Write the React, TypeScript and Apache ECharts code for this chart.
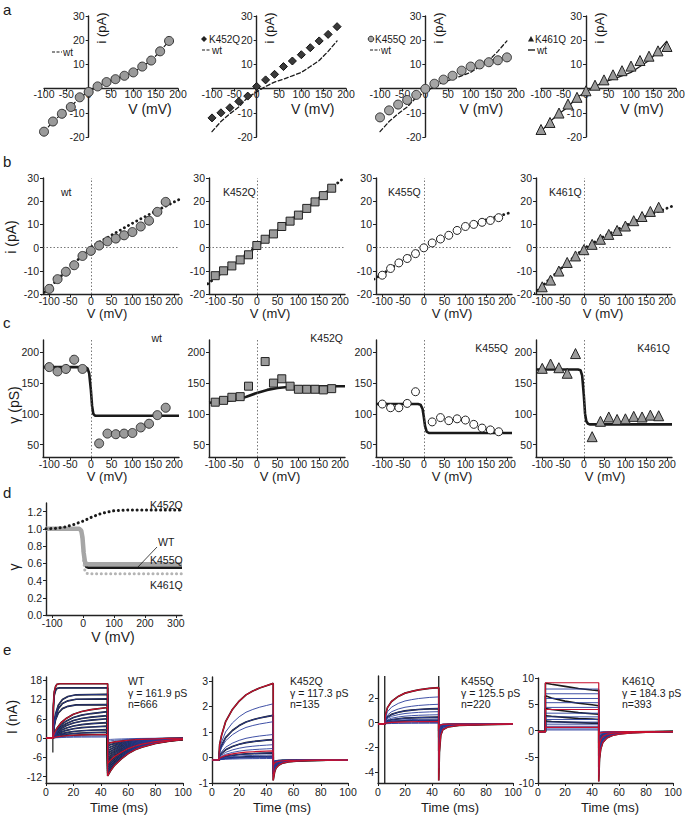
import React, { useEffect, useRef } from "react";
import * as echarts from "echarts";

const FONT = '"Liberation Sans", Arial, Helvetica, sans-serif';

// ---------------- a / b : single-channel current vs voltage ----------------
const V_IV = [-100, -80, -60, -40, -20, 0, 20, 40, 60, 80, 100, 120, 140, 160, 180];
const I_WT = [-17.8, -13.6, -10.4, -7.6, -3.6, -1.4, 0.9, 2.7, 3.9, 5.3, 6.7, 9.1, 11.6, 15.4, 19.7];
const I_K452Q = [-12.1, -10.0, -7.9, -5.3, -3.1, 0.9, 3.6, 5.9, 9.1, 11.4, 14.0, 16.9, 19.7, 22.4, 25.6];
const I_K455Q = [-11.9, -9.0, -6.6, -4.7, -2.6, -0.1, 2.0, 3.7, 5.3, 7.4, 9.1, 10.0, 10.9, 11.7, 12.9];
const I_K461Q = [-16.9, -14.0, -10.1, -6.4, -3.6, -0.9, 1.4, 3.6, 5.7, 7.4, 9.3, 11.6, 13.4, 15.6, 17.4];

// fitted I-V curves of panel b (dotted)
const FIT_WT = [[-120, -20.6], [-100, -17.3], [-50, -8.5], [-20, -3.3], [0, 0.2], [50, 5.4], [100, 10.5], [150, 15.2], [212, 20.7]];
const FIT_K452Q = [[-118, -15.6], [-50, -6.2], [0, 0.6], [50, 7.5], [100, 14.4], [150, 21.4], [205, 29.4]];
const FIT_K455Q = [[-120, -13.6], [-100, -11.5], [-50, -5.3], [0, 0], [50, 4.8], [100, 8.8], [150, 12.0], [212, 15.3]];
const FIT_K461Q = [[-120, -19.8], [-100, -16.6], [-50, -8.2], [0, -0.4], [50, 5.0], [100, 9.5], [150, 13.6], [212, 17.8]];

// ---------------- c : single-channel conductance ----------------
const V_G = [-100, -80, -60, -40, -20, 20, 40, 60, 80, 100, 120, 140, 160, 180];
const G_WT = [176, 169, 173, 188, 173, 52, 68, 67, 68, 69, 78, 84, 98, 110];
const G_K452Q = [119, 122, 127, 128, 145, 185, 150, 157, 145, 140, 140, 140, 139, 141];
const G_K455Q = [116, 110, 110, 117, 136, 87, 94, 89, 92, 90, 83, 77, 74, 71];
const G_K461Q = [174, 181, 175, 166, 198, 63, 88, 95, 91, 92, 96, 95, 98, 97];

const FITG_WT = [[-115, 176], [-14, 176], [-8, 174], [-4, 166], [0, 140], [3, 113], [6, 100], [10, 97], [212, 97]];
const FITG_K452Q = [[-115, 118], [-80, 120], [-50, 123], [-25, 128], [0, 134], [25, 139], [50, 142], [80, 144], [120, 145], [212, 145]];
const FITG_K455Q = [[-115, 116], [-14, 116], [-8, 115], [-3, 108], [0, 95], [3, 80], [7, 71], [12, 69], [212, 69]];
const FITG_K461Q = [[-115, 172], [-14, 172], [-8, 171], [-4, 162], [0, 130], [3, 100], [6, 88], [10, 84], [14, 83], [212, 83]];

// ---------------- d : normalised conductance ----------------
const REL_K452Q = [[-120, 1.0], [-90, 1.005], [-60, 1.02], [-30, 1.05], [0, 1.09], [30, 1.14], [60, 1.18], [100, 1.21], [150, 1.22], [320, 1.22]];
const REL_WT = [[-120, 1.0], [-12, 1.0], [-6, 0.97], [-2, 0.88], [2, 0.7], [6, 0.59], [10, 0.56], [16, 0.55], [320, 0.55]];
const REL_K455Q = [[-120, 1.0], [-12, 1.0], [-6, 0.98], [-2, 0.9], [2, 0.72], [6, 0.62], [10, 0.59], [320, 0.59]];
const REL_K461Q = [[-120, 1.0], [-12, 1.0], [-6, 0.97], [-2, 0.85], [2, 0.62], [6, 0.51], [10, 0.485], [16, 0.48], [320, 0.48]];

// ---------------- e : macroscopic current families ----------------
// normalised time courses: [time (ms), fraction]
const RISE_FAST = [[5, 0], [5.4, 0.6], [6, 0.85], [7, 0.95], [8, 0.99], [10, 1], [45, 1]];
const RISE_MED = [[5, 0], [6, 0.35], [7, 0.55], [9, 0.75], [12, 0.88], [16, 0.95], [22, 0.99], [45, 1]];
const RISE_SLOW = [[5, 0], [6, 0.15], [8, 0.32], [11, 0.5], [15, 0.65], [20, 0.78], [26, 0.87], [33, 0.93], [45, 1]];
const RISE_K452 = [[5, 0], [5.6, 0.2], [7, 0.32], [10, 0.5], [15, 0.66], [20, 0.77], [25, 0.85], [30, 0.9], [35, 0.94], [40, 0.97], [45, 1]];
const RISE_K455 = [[5, 0], [5.6, 0.25], [7, 0.45], [10, 0.62], [15, 0.76], [20, 0.85], [25, 0.9], [30, 0.94], [38, 0.98], [45, 1]];
const RISE_STEP = [[5.5, 0], [5.5, 1], [45, 1]];
const DECAY_WT = [[45, 1], [47, 0.87], [50, 0.72], [55, 0.55], [60, 0.41], [65, 0.31], [70, 0.24], [80, 0.14], [90, 0.08], [100, 0.04]];
const DECAY_FAST = [[45, 1], [46, 0.6], [47, 0.4], [49, 0.25], [52, 0.15], [56, 0.09], [62, 0.05], [70, 0.03], [85, 0.01], [100, 0]];
const DECAY_K455 = [[45, 1], [45.5, 0.5], [46.5, 0.2], [48, 0.1], [52, 0.05], [60, 0.025], [80, 0.01], [100, 0]];
const DECAY_K461 = [[45, 1], [45.6, 0.55], [46.5, 0.35], [48, 0.22], [51, 0.13], [55, 0.08], [60, 0.05], [70, 0.025], [85, 0.01], [100, 0]];

const WT_STEADY = [16.9, 15.6, 13.6, 12.2, 10.4, 9.5, 8.2, 7.0, 6.0, 4.8, 3.7, 2.6, 1.8, 1.1, 0.6, 0.3];
const WT_TAIL = [-11.8, -11.0, -10.3, -9.6, -8.8, -8.0, -7.2, -6.4, -5.6, -4.8, -4.0, -3.2, -2.4, -1.7, -1.0, -0.5];
const WT_SHAPE = ["F", "F", "M", "M", "M", "S", "S", "S", "S", "S", "S", "S", "S", "S", "S", "S"];
const WT_RED = [0, 5, 13];

const K452_STEADY = [3.0, 2.2, 1.75, 1.5, 1.0, 0.8, 0.6, 0.45, 0.36, 0.28, 0.2, 0.14, 0.1, 0.06];
const K452_TAIL = [-0.8, -0.65, -0.55, -0.5, -0.4, -0.35, -0.3, -0.25, -0.2, -0.17, -0.14, -0.1, -0.08, -0.05];
const K452_RED = [0, 8];
const K452_BLACK = [0, 2, 5, 9, 11];

const K455_STEADY = [2.95, 2.2, 1.6, 1.25, 1.0, 0.75, 0.55, 0.4, 0.3, 0.2, 0.12, 0.06];
const K455_TAIL = [-4.6, -3.6, -2.8, -2.2, -1.8, -1.4, -1.1, -0.8, -0.6, -0.4, -0.3, -0.2];
const K455_RED = [0, 9];
const K455_BLACK = [0, 3, 6, 8];

const K461_FIT = [9.3, 8.1, 7.2, 6.3, 5.5, 4.6, 4.2, 3.5, 2.8, 2.3, 1.8, 1.4, 1.0, 0.8, 0.5, 0.3];
const K461_TAIL = [-9.5, -8.2, -7.2, -6.4, -5.6, -4.8, -4.2, -3.6, -3.0, -2.4, -1.9, -1.4, -1.0, -0.7, -0.4, -0.2];
const K461_RED = [0, 6, 13];
const K461_BLACK_T = [5.5, 10, 20, 30, 40, 45];
const K461_BLACK = [
  [9.2, 9.0, 8.6, 8.2, 7.9, 7.8],
  [6.8, 6.4, 5.8, 5.4, 5.1, 4.9],
  [4.4, 4.2, 3.9, 3.6, 3.4, 3.3],
  [3.0, 2.9, 2.7, 2.5, 2.4, 2.3],
  [2.0, 1.9, 1.8, 1.7, 1.6, 1.6],
];
const K461_BLACK_TAIL = [-9.5, -6.8, -4.6, -3.2, -2.2];

// ---------------- tick lists ----------------
const A_XTICKS = [-100, -50, 0, 50, 100, 150, 200];
const A_YTICKS = [-20, -10, 10, 20, 30];
const B_YTICKS = [-20, -10, 0, 10, 20, 30];
const BC_XTICKS = [-100, -50, 0, 50, 100, 150, 200];
const C_YTICKS = [50, 100, 150, 200];
const D_XTICKS = [-100, 0, 100, 200, 300];
const D_YTICKS = [0, 0.2, 0.4, 0.6, 0.8, 1.0, 1.2];
const E_XTICKS = [0, 20, 40, 60, 80, 100];
const E_YTICKS = [
  [-12, -6, 0, 6, 12, 18],
  [-1, 0, 1, 2, 3],
  [-4, -2, 0, 2],
  [-10, -5, 0, 5, 10],
];

const BLACK = "#1a1a1a";
const BLUE = "#2a3d9c";
const RED = "#c8102e";
const GRAY = "#9a9a9a";

function buildOption() {
  const grid: any[] = [];
  const xAxis: any[] = [];
  const yAxis: any[] = [];
  const series: any[] = [];
  const graphic: any[] = [];

  const axis = (min: number, max: number, ticks: number[], o: any = {}) => {
    const label: any = {
      show: true,
      customValues: ticks,
      fontSize: o.fs ?? 10.5,
      fontFamily: FONT,
      color: "#222222",
      margin: o.margin ?? 3,
      showMinLabel: true,
      showMaxLabel: true,
      hideOverlap: false,
    };
    if (o.formatter) label.formatter = o.formatter;
    const ax: any = {
      type: "value",
      min,
      max,
      axisLine: { show: true, onZero: false, lineStyle: { color: "#222", width: o.lw ?? 1.4 } },
      axisTick: { show: true, length: 3, inside: false, customValues: ticks, lineStyle: { color: "#222", width: 1 } },
      axisLabel: label,
      splitLine: { show: false },
    };
    if (o.position) ax.position = o.position;
    if (o.offset !== undefined) ax.offset = o.offset;
    return ax;
  };
  const add = (g: any, xa: any, ya: any) => {
    grid.push({ ...g, containLabel: false, outerBoundsMode: "none", show: false });
    const i = grid.length - 1;
    xAxis.push({ ...xa, gridIndex: i });
    yAxis.push({ ...ya, gridIndex: i });
    return i;
  };
  const zip = (xs: number[], ys: number[]) => xs.map((x, i) => [x, ys[i]]);
  const line = (gi: number, data: any[], color: string, width: number, type: any = "solid", z = 2, extra: any = {}) => ({
    type: "line",
    xAxisIndex: gi,
    yAxisIndex: gi,
    data,
    symbol: "none",
    silent: true,
    z,
    lineStyle: { color, width, type, cap: Array.isArray(type) ? "round" : "butt" },
    ...extra,
  });
  const scat = (gi: number, data: any[], symbol: string, size: number, fill: string, stroke: string, z = 5) => ({
    type: "scatter",
    xAxisIndex: gi,
    yAxisIndex: gi,
    data,
    symbol,
    symbolSize: size,
    silent: true,
    z,
    itemStyle: { color: fill, borderColor: stroke, borderWidth: 1, opacity: 1 },
  });
  const T = (x: number, y: number, text: string, size = 11, align = "left", vAlign = "middle", rotation = 0) => ({
    type: "text",
    x,
    y,
    rotation,
    silent: true,
    z: 100,
    style: {
      text,
      fill: "#1a1a1a",
      font: `${size}px ${FONT}`,
      fontSize: size,
      fontFamily: FONT,
      align,
      verticalAlign: vAlign,
      textAlign: align,
      textVerticalAlign: vAlign,
    },
  });
  const G = (type: string, shape: any, style: any) => ({ type, shape, style, silent: true, z: 100 });
  const DOT = [0.1, 4.6];

  // panel letters
  graphic.push(T(3, 9, "a", 15), T(3, 161, "b", 15), T(3, 322, "c", 15), T(3, 492, "d", 15), T(3, 649, "e", 15));

  // ---------------- panel a ----------------
  const A_LEFT = [44, 212, 380, 541];
  const A_W = [134, 134, 136, 135];
  const A_H = 121;
  const aMut = [null, I_K452Q, I_K455Q, I_K461Q];
  for (let k = 0; k < 4; k++) {
    const zeroOffX = (A_W[k] * 100) / 300;
    const zeroOffY = (A_H * 20) / 50;
    const gi = add(
      { left: A_LEFT[k], top: 16, width: A_W[k], height: A_H },
      axis(-100, 200, A_XTICKS, { margin: 0, position: "bottom", offset: -zeroOffY }),
      axis(-20, 30, A_YTICKS, { margin: 4, position: "left", offset: -zeroOffX })
    );
    const zeroX = A_LEFT[k] + zeroOffX;
    if (k === 0) {
      series.push({
        ...line(gi, zip(V_IV, I_WT), BLACK, 1.2, [4, 2.5], 3),
        symbol: "circle",
        symbolSize: 9,
        itemStyle: { color: GRAY, borderColor: "#333", borderWidth: 1 },
      });
    } else {
      series.push(line(gi, zip(V_IV, I_WT), BLACK, 1.3, k === 3 ? "solid" : [4, 2.5], 2));
      const d = zip(V_IV, aMut[k] as number[]);
      if (k === 1) series.push(scat(gi, d, "diamond", 8, "#3a3a3a", "#111"));
      if (k === 2) series.push(scat(gi, d, "circle", 9, "#a5a5a5", "#333"));
      if (k === 3) series.push(scat(gi, d, "triangle", 10, GRAY, "#222"));
    }
    graphic.push(T(zeroX + 13, 28, "i (pA)", 13, "center", "middle", Math.PI / 2));
    graphic.push(T(k === 0 ? 150 : zeroX + 56, 109, "V (mV)", 14, "center", "middle"));
  }
  // panel a legends
  graphic.push(G("line", { x1: 52, y1: 52, x2: 62, y2: 52 }, { stroke: BLACK, lineWidth: 1.2, lineDash: [3, 1.5] }));
  graphic.push(T(63, 52, "wt", 10));
  graphic.push(G("polygon", { points: [[204, 36], [207, 39], [204, 42], [201, 39]] }, { fill: "#222" }));
  graphic.push(T(209, 39, "K452Q", 10));
  graphic.push(G("line", { x1: 202, y1: 50, x2: 211, y2: 50 }, { stroke: BLACK, lineWidth: 1.2, lineDash: [3, 1.5] }));
  graphic.push(T(212, 50, "wt", 10));
  graphic.push(G("circle", { cx: 371, cy: 39, r: 2.8 }, { fill: "#a5a5a5", stroke: "#333", lineWidth: 1 }));
  graphic.push(T(375, 39, "K455Q", 10));
  graphic.push(G("line", { x1: 370, y1: 50, x2: 380, y2: 50 }, { stroke: BLACK, lineWidth: 1.2, lineDash: [3, 1.5] }));
  graphic.push(T(381, 50, "wt", 10));
  graphic.push(G("polygon", { points: [[531, 36], [534, 41.5], [528, 41.5]] }, { fill: "#222" }));
  graphic.push(T(535, 39, "K461Q", 10));
  graphic.push(G("line", { x1: 528, y1: 50, x2: 535, y2: 50 }, { stroke: BLACK, lineWidth: 1.4 }));
  graphic.push(T(537, 50, "wt", 10));

  // ---------------- panel b ----------------
  const BC_LEFT = [43, 209, 376, 536];
  const BC_W = 136;
  const bData = [I_WT, I_K452Q, I_K455Q, I_K461Q];
  const bFit = [FIT_WT, FIT_K452Q, FIT_K455Q, FIT_K461Q];
  const bSym = [
    ["circle", 9, GRAY, "#333"],
    ["rect", 8, GRAY, "#222"],
    ["circle", 8, "#ffffff", "#222"],
    ["triangle", 10, GRAY, "#222"],
  ];
  const bNames = ["wt", "K452Q", "K455Q", "K461Q"];
  const bNameX = [61, 223, 388, 549];
  const bVx = [107, 270, 452, 603];
  for (let k = 0; k < 4; k++) {
    const gi = add(
      { left: BC_LEFT[k], top: 178, width: BC_W, height: 116 },
      axis(-115, 212, BC_XTICKS, { margin: 1 }),
      axis(-20, 30, B_YTICKS, { margin: 4 })
    );
    series.push({
      ...line(gi, bFit[k], BLACK, 2.8, DOT, 3),
      markLine: {
        silent: true,
        symbol: ["none", "none"],
        label: { show: false },
        lineStyle: { type: [1.5, 2], color: "#555", width: 0.8 },
        data: [{ xAxis: 0 }, { yAxis: 0 }],
        animation: false,
      },
    });
    const s = bSym[k] as any[];
    series.push(scat(gi, zip(V_IV, bData[k]), s[0], s[1], s[2], s[3]));
    graphic.push(T(bNameX[k], 192, bNames[k], 10.5));
    graphic.push(T(bVx[k], 313, "V (mV)", 13, "center", "middle"));
  }
  graphic.push(T(11, 237, "i (pA)", 14, "center", "middle", Math.PI / 2));

  // ---------------- panel c ----------------
  const cData = [G_WT, G_K452Q, G_K455Q, G_K461Q];
  const cFit = [FITG_WT, FITG_K452Q, FITG_K455Q, FITG_K461Q];
  const cNameX = [162, 343, 508, 670];
  const cNameY = [338, 338, 348, 348];
  const cVx = [107, 280, 452, 605];
  for (let k = 0; k < 4; k++) {
    const gi = add(
      { left: BC_LEFT[k], top: 340, width: BC_W, height: 117 },
      axis(-115, 212, BC_XTICKS, { margin: 1 }),
      axis(30, 220, C_YTICKS, { margin: 4 })
    );
    series.push({
      ...line(gi, cFit[k], BLACK, 2.6, "solid", 3),
      markLine: {
        silent: true,
        symbol: ["none", "none"],
        label: { show: false },
        lineStyle: { type: [1.5, 2], color: "#555", width: 0.8 },
        data: [{ xAxis: 0 }],
        animation: false,
      },
    });
    const s = bSym[k] as any[];
    series.push(scat(gi, zip(V_G, cData[k]), s[0], s[1], s[2], s[3]));
    graphic.push(T(cNameX[k], cNameY[k], bNames[k], 10.5, "right"));
    graphic.push(T(cVx[k], 476, "V (mV)", 13, "center", "middle"));
  }
  graphic.push(T(14, 405, "γ (pS)", 14, "center", "middle", Math.PI / 2));

  // ---------------- panel d ----------------
  {
    const gi = add(
      { left: 46, top: 503, width: 136, height: 112 },
      axis(-120, 320, D_XTICKS, { margin: 2 }),
      axis(0, 1.3, D_YTICKS, { margin: 4, formatter: (v: number) => v.toFixed(1) })
    );
    series.push(line(gi, REL_WT, BLACK, 2.6, "solid", 2));
    series.push(line(gi, REL_K461Q, "#b4b4b4", 3, DOT, 3));
    series.push(line(gi, REL_K455Q, "#a6a6a6", 4.5, "solid", 4));
    series.push(line(gi, REL_K452Q, BLACK, 3, DOT, 5));
    graphic.push(T(150, 505, "K452Q", 10.5));
    graphic.push(T(158, 542, "WT", 10.5));
    graphic.push(G("line", { x1: 157, y1: 547, x2: 137, y2: 568 }, { stroke: BLACK, lineWidth: 0.8 }));
    graphic.push(T(150, 560, "K455Q", 10.5));
    graphic.push(T(150, 585, "K461Q", 10.5));
    graphic.push(T(113, 637, "V (mV)", 14, "center", "middle"));
    graphic.push(T(14, 567, "γ", 14, "center", "middle", Math.PI / 2));
  }

  // ---------------- panel e ----------------
  const trace = (base: number, amp: number, tail: number, rise: number[][], decay: number[][]) => {
    const pts: number[][] = [[0, base]];
    for (const [t, f] of rise) pts.push([t, base + amp * f]);
    for (const [t, f] of decay) pts.push([t, base + tail * f]);
    return pts;
  };
  const E_LEFT = [46, 212, 378, 538];
  const E_W = [137, 136, 135, 135];
  const E_TOP = [677, 677, 676, 678];
  const E_H = [106, 106, 107, 105];
  const E_RANGE = [[-14, 19], [-1, 3.15], [-4.9, 3.8], [-10, 10]];
  const eGi: number[] = [];
  for (let k = 0; k < 4; k++) {
    eGi.push(
      add(
        { left: E_LEFT[k], top: E_TOP[k], width: E_W[k], height: E_H[k] },
        axis(0, 100, E_XTICKS, { margin: 3 }),
        axis(E_RANGE[k][0], E_RANGE[k][1], E_YTICKS[k], { margin: 4 })
      )
    );
  }
  // WT
  {
    const gi = eGi[0];
    const shapes: any = { F: RISE_FAST, M: RISE_MED, S: RISE_SLOW };
    WT_STEADY.forEach((a, i) => {
      const d = trace(0, a, WT_TAIL[i], shapes[WT_SHAPE[i]], DECAY_WT);
      if (a > 1) series.push(line(gi, d, BLACK, 1.7, "solid", 2));
      const red = WT_RED.includes(i);
      series.push(line(gi, d, red ? RED : BLUE, red ? 1.2 : 0.8, "solid", red ? 4 : 3));
    });
    series.push(line(gi, [[0, 0], [5, 0]], RED, 1.2, "solid", 4));
    series.push(line(gi, [[5, 0], [5, -4.5]], BLACK, 1.2, "solid", 2));
  }
  // K452Q
  {
    const gi = eGi[1];
    K452_STEADY.forEach((a, i) => {
      const d = trace(-0.1, a, K452_TAIL[i], RISE_K452, DECAY_FAST);
      if (K452_BLACK.includes(i)) series.push(line(gi, d, BLACK, 1.7, "solid", 2));
      const red = K452_RED.includes(i);
      series.push(line(gi, d, red ? RED : BLUE, red ? 1.2 : 0.9, "solid", red ? 4 : 3));
    });
    series.push(line(gi, [[0, -0.1], [5, -0.1]], BLACK, 1.4, "solid", 2));
  }
  // K455Q
  {
    const gi = eGi[2];
    K455_STEADY.forEach((a, i) => {
      const d = trace(-0.1, a, K455_TAIL[i], RISE_K455, DECAY_K455);
      if (K455_BLACK.includes(i)) series.push(line(gi, d, BLACK, 1.7, "solid", 2));
      const red = K455_RED.includes(i);
      series.push(line(gi, d, red ? RED : BLUE, red ? 1.2 : 0.9, "solid", red ? 4 : 3));
    });
    series.push(line(gi, [[0, -0.1], [5, -0.1]], RED, 1.2, "solid", 4));
    series.push(line(gi, [[5, -4.9], [5, 3.8]], BLACK, 1.3, "solid", 2));
    series.push(line(gi, [[45, 3.8], [45, 0]], BLACK, 1.3, "solid", 2));
  }
  // K461Q
  {
    const gi = eGi[3];
    K461_FIT.forEach((a, i) => {
      const d = trace(-0.2, a, K461_TAIL[i], RISE_STEP, DECAY_K461);
      const red = K461_RED.includes(i);
      series.push(line(gi, d, red ? RED : BLUE, red ? 1.2 : 0.9, "solid", red ? 4 : 3));
    });
    K461_BLACK.forEach((vals, r) => {
      const d: number[][] = [[0, -0.2], [5.5, -0.2]];
      K461_BLACK_T.forEach((t, j) => d.push([t, -0.2 + vals[j]]));
      DECAY_K461.forEach(([t, f]) => d.push([t, -0.2 + K461_BLACK_TAIL[r] * f]));
      series.push(line(gi, d, BLACK, 1.6, "solid", 2));
    });
    series.push(line(gi, [[0, -0.2], [5.5, -0.2]], RED, 1.2, "solid", 4));
  }
  const eTimeX = [119, 282, 450, 610];
  const eNames = [
    ["WT", "γ = 161.9 pS", "n=666"],
    ["K452Q", "γ = 117.3 pS", "n=135"],
    ["K455Q", "γ = 125.5 pS", "n=220"],
    ["K461Q", "γ = 184.3 pS", "n=393"],
  ];
  const eNameX = [128, 290, 461, 622];
  for (let k = 0; k < 4; k++) {
    graphic.push(T(eTimeX[k], 807, "Time (ms)", 13, "center", "middle"));
    graphic.push(T(eNameX[k], 681, eNames[k][0], 10.5));
    graphic.push(T(eNameX[k], 693, eNames[k][1], 10.5));
    graphic.push(T(eNameX[k], 704, eNames[k][2], 10.5));
  }
  graphic.push(T(12, 717, "I (nA)", 14, "center", "middle", Math.PI / 2));

  return {
    animation: false,
    backgroundColor: "#ffffff",
    textStyle: { fontFamily: FONT },
    grid,
    xAxis,
    yAxis,
    series,
    graphic,
  };
}

export default function App() {
  const ref = useRef<HTMLDivElement>(null);
  useEffect(() => {
    if (!ref.current) return;
    const chart = echarts.init(ref.current, undefined, { renderer: "svg" });
    chart.setOption(buildOption() as any);
    return () => chart.dispose();
  }, []);
  return (
    <div
      ref={ref}
      style={{ position: "absolute", left: 0, top: 0, width: 685, height: 815, background: "#fff" }}
    />
  );
}
